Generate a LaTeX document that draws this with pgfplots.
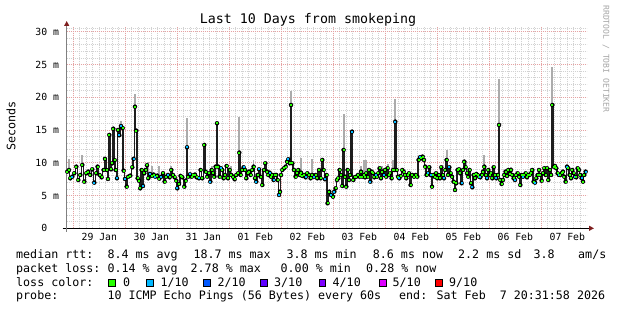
\documentclass[border=0pt]{standalone}
\usepackage{fontspec}
\setmainfont{DejaVu Sans Mono}
\usepackage{pgfplots}
\pgfplotsset{compat=1.18}
\usepackage{pgfplotstable}
\usetikzlibrary{arrows.meta}
\definecolor{lossgreen}{HTML}{26FF00}
\definecolor{losscyan}{HTML}{00B8FF}
\definecolor{lossblue}{HTML}{0059FF}
\definecolor{losspurple}{HTML}{5E00FF}
\definecolor{lossviolet}{HTML}{7E00FF}
\definecolor{lossmagenta}{HTML}{DD00FF}
\definecolor{lossred}{HTML}{FF0000}
\definecolor{smoke}{HTML}{ABABAB}
\definecolor{medline}{HTML}{1E1E1E}
\definecolor{mgrid}{HTML}{E6A3A3}
\definecolor{mingrid}{HTML}{D2D2D2}
\definecolor{arrowred}{HTML}{7F1F1F}
\newcommand{\legf}{\fontsize{11.66}{14}\selectfont}
\newcommand{\tkf}{\fontsize{9.8}{11}\selectfont}
% d = days since 29 Jan 00:00, v = median rtt (ms), k = loss class (0: 0, 1: 1/10), g = smoke above median (ms)
\pgfplotstableread{
d v k g
-0.115 8.65 0 0
-0.083 8.90 0 1.7
-0.058 7.63 0 0
-0.019 7.88 1 0
0.019 8.40 0 0
0.058 9.41 0 0
0.096 7.37 0 0
0.135 8.14 0 0
0.173 9.67 0 1.5
0.212 7.12 0 0
0.250 8.40 0 0
0.288 8.65 0 0
0.327 8.14 0 0
0.365 9.00 0 0
0.404 6.97 1 0
0.442 8.40 0 0
0.467 9.41 0 0
0.506 8.14 0 0
0.544 7.78 0 0
0.583 8.90 0 0
0.609 10.60 0 0
0.641 8.90 0 0
0.667 7.53 0 0
0.692 14.25 0 0
0.724 9.00 0 0
0.750 9.92 0 0
0.769 15.20 0 0
0.795 10.40 0 0
0.814 8.90 0 0
0.840 7.63 1 0
0.859 15.00 0 0
0.885 14.20 1 0
0.917 15.60 1 0.7
0.949 15.30 0 0
0.968 8.80 0 0
0.994 7.53 1 0
1.026 6.36 0 0
1.058 7.88 0 0
1.096 8.04 0 0
1.135 9.31 0 0
1.160 10.60 1 0
1.186 18.56 0 2.0
1.212 14.90 0 0
1.237 7.63 0 0
1.263 7.27 0 0
1.288 6.10 0 0
1.314 8.90 0 0
1.340 6.46 1 0
1.365 8.40 0 0
1.391 8.90 0 0
1.417 9.62 0 0
1.442 7.63 0 2.5
1.474 8.30 1 0
1.506 8.00 0 1.5
1.544 8.20 0 0
1.577 7.88 1 0
1.615 8.04 0 0
1.654 7.58 0 2.0
1.692 7.88 1 0
1.725 8.40 0 0
1.756 7.12 0 0
1.788 7.88 0 0
1.821 8.14 1 0
1.852 7.78 0 0
1.885 8.90 0 0.6
1.917 8.14 0 0
1.948 7.78 0 0
1.981 7.27 0 0
2.000 6.10 1 0
2.033 6.77 0 0
2.063 8.00 0 0
2.096 7.78 0 0
2.135 6.36 0 0
2.160 7.27 0 0
2.187 12.36 1 4.4
2.212 7.88 0 0
2.244 8.24 1 0
2.275 7.88 0 0
2.308 8.09 0 0
2.340 8.20 0 0
2.371 7.78 0 0
2.417 7.63 1 0
2.448 8.90 0 0
2.481 7.63 0 0
2.519 12.72 0 0
2.544 8.65 0 0
2.577 7.88 0 0
2.610 8.39 0 0
2.635 7.12 1 0
2.660 8.90 0 0.6
2.687 8.39 0 0
2.712 7.88 0 0
2.737 9.41 0 0
2.763 16.03 0 0
2.788 9.41 0 0
2.813 7.88 0 0
2.840 9.16 1 0
2.865 8.90 0 0
2.890 7.63 0 0
2.917 8.14 0 0
2.948 9.51 0 0
2.975 7.63 0 0
3.006 8.90 0 0
3.038 8.14 0 1.4
3.071 7.88 0 0
3.102 7.48 0 0
3.135 8.14 0 0
3.167 8.39 0 0
3.192 11.55 0 5.5
3.217 8.14 0 0
3.250 8.90 0 0
3.275 9.31 1 0
3.302 8.90 0 0
3.327 7.63 0 0
3.352 8.39 0 0
3.379 8.65 0 0
3.410 8.14 0 0
3.442 8.90 0 0
3.467 9.41 0 1.0
3.494 7.63 0 0
3.519 7.12 1 0
3.544 8.14 0 0
3.571 9.00 1 0
3.602 7.88 0 0
3.635 6.61 0 0
3.667 8.90 0 0
3.692 9.92 0 0
3.725 8.65 0 0
3.750 8.14 0 0
3.775 8.49 1 0
3.802 7.88 0 0
3.827 8.14 0 0
3.852 7.37 1 0
3.879 8.14 0 0
3.904 8.14 0 0
3.929 7.37 0 0
3.956 5.09 1 0
3.975 5.59 0 0
3.994 8.14 0 0
4.019 8.90 0 0
4.052 9.16 0 0
4.083 9.41 0 0
4.110 10.17 0 0
4.135 10.53 1 0
4.160 9.92 0 0
4.187 18.82 0 2.2
4.212 9.92 0 0
4.244 8.90 0 0
4.275 7.88 0 0
4.302 8.39 0 0
4.327 8.90 0 0
4.352 8.14 0 0
4.379 8.49 0 2.2
4.404 7.98 0 0
4.437 8.14 0 0
4.467 7.78 1 0
4.500 8.39 0 0
4.533 8.14 0 0
4.563 7.63 0 0
4.596 8.14 0 2.5
4.629 7.88 1 0
4.660 8.14 0 0
4.692 7.63 0 0
4.725 8.90 0 0
4.756 7.63 0 0
4.788 10.43 0 0
4.813 8.90 0 0
4.840 7.48 1 0
4.871 8.14 0 0
4.890 3.82 0 0
4.923 5.59 0 0
4.956 5.09 1 0
4.994 4.83 0 0
5.019 5.59 1 0
5.044 6.10 0 0
5.071 7.37 0 0
5.096 7.63 0 0
5.121 8.90 0 0
5.148 8.14 0 0
5.173 6.46 0 0
5.198 11.96 0 5.5
5.225 7.88 0 0
5.250 6.36 0 0
5.275 8.90 0 0
5.302 7.37 0 0
5.327 8.14 0 0
5.360 14.75 1 0
5.385 7.37 0 0
5.410 7.78 0 0
5.442 7.88 0 0
5.475 8.14 0 0
5.506 7.88 0 0
5.533 8.65 0 0.9
5.558 7.88 0 0
5.583 8.14 0 2.3
5.610 7.78 0 0
5.635 8.39 0 2.0
5.660 7.88 0 0
5.687 8.90 0 0
5.712 7.12 1 0
5.737 8.65 0 0
5.763 8.39 0 0
5.788 7.78 0 0
5.813 8.14 1 0
5.840 7.88 0 0
5.865 8.39 0 0
5.890 9.16 0 0
5.917 7.63 0 0
5.942 8.65 0 0.9
5.967 8.14 1 0
5.994 8.90 0 0
6.019 7.88 0 0
6.044 9.16 0 0.7
6.071 8.14 0 0
6.096 8.39 0 0
6.121 7.63 0 0
6.148 8.90 0 1.5
6.173 8.90 0 0
6.192 16.28 1 3.4
6.217 8.90 0 0
6.244 7.88 0 0
6.269 7.63 1 0
6.294 7.98 0 0
6.327 8.90 0 0
6.352 8.65 0 0
6.379 8.14 0 0
6.404 7.63 0 0
6.429 8.14 0 0
6.456 8.39 0 0
6.487 6.61 0 0
6.519 8.14 0 0
6.552 7.88 0 0
6.583 8.14 0 0
6.615 7.88 0 0
6.640 10.43 0 0
6.667 10.83 1 0
6.692 10.68 0 0
6.717 10.94 0 0.3
6.744 10.43 0 0
6.769 9.41 0 0
6.794 8.14 0 0
6.821 8.39 1 0
6.846 9.31 0 0
6.871 8.14 1 0
6.898 6.36 0 0
6.923 8.14 0 0
6.948 7.88 0 0
6.975 8.39 0 0
7.000 7.63 0 0
7.025 8.14 0 0
7.052 7.63 0 0
7.077 9.31 0 0
7.102 8.14 0 0
7.129 7.63 1 0
7.154 8.90 0 0
7.179 10.43 0 1.5
7.206 8.14 0 0
7.231 9.31 1 0
7.256 8.39 0 0
7.283 7.88 0 0
7.313 7.12 0 0
7.340 5.85 0 0
7.365 6.87 0 0
7.390 8.90 0 0
7.417 9.00 0 0
7.442 8.39 0 0
7.467 6.87 1 0
7.494 8.90 0 0
7.519 10.17 0 0
7.544 9.31 0 0.9
7.571 8.39 0 0
7.596 7.88 0 0
7.621 8.90 0 0
7.648 6.87 0 0
7.673 6.26 1 0
7.698 8.14 0 0
7.725 7.63 0 0
7.750 8.29 0 0
7.775 8.14 0 0
7.802 7.88 0 0
7.827 7.78 1 0
7.852 8.14 0 0
7.879 8.65 0 0
7.904 9.41 0 1.8
7.929 8.14 0 0
7.956 7.63 1 0
7.981 8.90 0 0
8.006 8.14 0 0
8.033 8.39 0 0
8.058 7.63 0 0
8.083 9.31 0 0
8.110 8.14 0 0
8.135 7.63 1 0
8.160 8.14 0 0
8.187 15.77 0 7.0
8.212 7.37 0 0
8.237 6.76 0 0
8.263 7.37 0 0
8.288 8.14 0 0
8.313 8.65 0 0
8.340 7.98 0 0
8.365 8.90 0 0
8.390 8.29 0 0
8.417 8.90 0 0.4
8.442 8.14 0 0
8.467 7.63 0 0
8.494 7.37 1 0
8.519 8.14 0 0
8.544 8.39 0 0
8.571 7.88 0 0
8.596 6.61 0 0
8.621 8.14 0 0
8.648 7.88 1 0
8.673 8.14 0 0
8.698 8.39 0 0
8.725 7.78 0 0
8.750 8.14 0 0
8.775 8.14 0 0
8.802 8.39 0 0.8
8.827 8.90 0 0
8.852 7.12 0 0
8.879 6.97 1 0
8.904 7.63 0 0
8.929 8.14 0 0
8.956 8.90 0 0
8.981 8.14 0 0
9.006 7.27 0 0
9.033 8.39 0 0
9.058 9.16 0 0
9.083 8.14 0 0
9.110 9.16 0 0
9.135 7.37 0 0
9.160 8.90 0 0
9.187 8.14 0 0
9.212 18.82 0 5.75
9.237 9.41 0 0
9.263 9.51 0 0
9.288 9.16 0 0
9.313 8.39 0 0
9.340 8.14 1 0
9.365 8.14 0 0
9.390 8.39 0 0
9.417 8.65 0 0
9.442 7.88 0 0
9.467 7.12 0 0
9.494 9.41 1 0
9.519 9.16 0 0
9.544 8.14 0 0
9.571 7.63 0 0
9.596 8.90 0 0
9.621 8.39 0 0
9.648 7.88 1 0
9.673 7.78 0 0
9.698 9.16 0 0
9.725 8.90 0 0.4
9.750 8.14 0 0
9.775 7.63 1 0
9.802 7.12 0 0
9.827 8.14 0 0
9.852 8.65 1 0
}\med
\begin{document}
\begin{tikzpicture}
\fill[white] (0pt,0pt) rectangle (617pt,310pt);
\begin{axis}[
  at={(66.7pt,81.7pt)}, anchor=south west,
  scale only axis, width=520pt, height=201.3pt,
  xmin=-0.127, xmax=9.873, ymin=0, ymax=30.72,
  axis x line*=bottom, axis y line*=left,
  x axis line style={draw=black, line width=0.9pt, shorten <=-4pt, shorten >=-7.3pt,
     -{Triangle[length=5pt,width=5pt,color=arrowred]}},
  y axis line style={draw=gray, line width=0.9pt, shorten <=-3.4pt, shorten >=-6pt,
     -{Triangle[length=5pt,width=5pt,color=arrowred]}},
  major tick length=0pt, minor tick length=0pt,
  xtick={0.5,1.5,...,9.5},
  xticklabels={29 Jan,30 Jan,31 Jan,01 Feb,02 Feb,03 Feb,04 Feb,05 Feb,06 Feb,07 Feb},
  minor xtick={-0.125,0,...,9.875},
  extra x ticks={0,1,...,9}, extra x tick labels={},
  extra x tick style={grid=major},
  xmajorgrids=false, xminorgrids=true,
  ytick={0,5,...,30},
  yticklabels={0\phantom{\ m},5 m,10 m,15 m,20 m,25 m,30 m},
  minor ytick={1,2,3,4,6,7,8,9,11,12,13,14,16,17,18,19,21,22,23,24,26,27,28,29,30.5},
  ymajorgrids=true, yminorgrids=true,
  major grid style={draw=mgrid, line width=0.8pt, dash pattern=on 1pt off 1pt},
  minor grid style={draw=mingrid, line width=0.8pt, dash pattern=on 1pt off 1pt},
  x tick label style={font=\tkf, anchor=base, inner sep=0pt, yshift=-12.4pt},
  y tick label style={font=\tkf, anchor=east, inner sep=0pt, xshift=-7.4pt},
  colormap={loss}{color(0)=(lossgreen) color(1)=(losscyan)},
  point meta min=0, point meta max=1,
]
\addplot[only marks, mark=none, forget plot,
  error bars/.cd, y dir=plus, y explicit, error mark=none,
  error bar style={draw=smoke, solid, line width=1.8pt}]
  table[x=d, y=v, y error=g] {\med};
\addplot[const plot mark mid, draw=medline, line width=1.4pt, mark=none]
  table[x=d, y=v] {\med};
\addplot[scatter, only marks, mark=-, mark size=0.95pt,
  scatter/use mapped color={draw=mapped color, fill=mapped color},
  mark options={line width=1.9pt}, point meta=explicit]
  table[x=d, y=v, meta=k] {\med};
\end{axis}
\node[anchor=base, inner sep=0pt, font=\fontsize{13.3}{15}\selectfont] at (308pt,286pt) {Last 10 Days from smokeping};
\node[rotate=90, inner sep=0pt, font=\legf] at (11pt,184pt) {Seconds};
\node[rotate=-90, inner sep=0pt, font=\fontsize{8.1}{9}\selectfont, text=black!35] at (606pt,251pt) {RRDTOOL / TOBI OETIKER};
\begin{scope}[every node/.style={anchor=base west, inner sep=0pt, font=\legf}]
\node at (16pt,51.3pt) {median rtt:};
\node at (107.3pt,51.3pt) {8.4 ms avg};
\node at (193.3pt,51.3pt) {18.7 ms max};
\node at (286.3pt,51.3pt) {3.8 ms min};
\node at (372.7pt,51.3pt) {8.6 ms now};
\node at (458pt,51.3pt) {2.2 ms sd};
\node at (533.5pt,51.3pt) {3.8};
\node at (578pt,51.3pt) {am/s};
\node at (16pt,37.6pt) {packet loss:};
\node at (107.3pt,37.6pt) {0.14 \% avg};
\node at (190.5pt,37.6pt) {2.78 \% max};
\node at (280.5pt,37.6pt) {0.00 \% min};
\node at (366pt,37.6pt) {0.28 \% now};
\node at (16pt,23.9pt) {loss color:};
\node at (123pt,23.9pt) {0};
\node at (160.3pt,23.9pt) {1/10};
\node at (217.3pt,23.9pt) {2/10};
\node at (274pt,23.9pt) {3/10};
\node at (332.5pt,23.9pt) {4/10};
\node at (392.5pt,23.9pt) {5/10};
\node at (449pt,23.9pt) {9/10};
\node at (16pt,10.2pt) {probe:};
\node at (107.3pt,10.2pt) {10 ICMP Echo Pings (56 Bytes) every 60s};
\node at (399pt,10.2pt) {end: Sat Feb~~7 20:31:58 2026};
\end{scope}
\begin{scope}[line width=0.8pt, draw=black]
\filldraw[fill=lossgreen] (108.5pt,23.9pt) rectangle ++(6.8pt,6.8pt);
\filldraw[fill=losscyan] (146.7pt,23.9pt) rectangle ++(6.8pt,6.8pt);
\filldraw[fill=lossblue] (203.3pt,23.9pt) rectangle ++(6.8pt,6.8pt);
\filldraw[fill=losspurple] (260.7pt,23.9pt) rectangle ++(6.8pt,6.8pt);
\filldraw[fill=lossviolet] (319pt,23.9pt) rectangle ++(6.8pt,6.8pt);
\filldraw[fill=lossmagenta] (379.3pt,23.9pt) rectangle ++(6.8pt,6.8pt);
\filldraw[fill=lossred] (435.5pt,23.9pt) rectangle ++(6.8pt,6.8pt);
\end{scope}
\end{tikzpicture}
\end{document}
